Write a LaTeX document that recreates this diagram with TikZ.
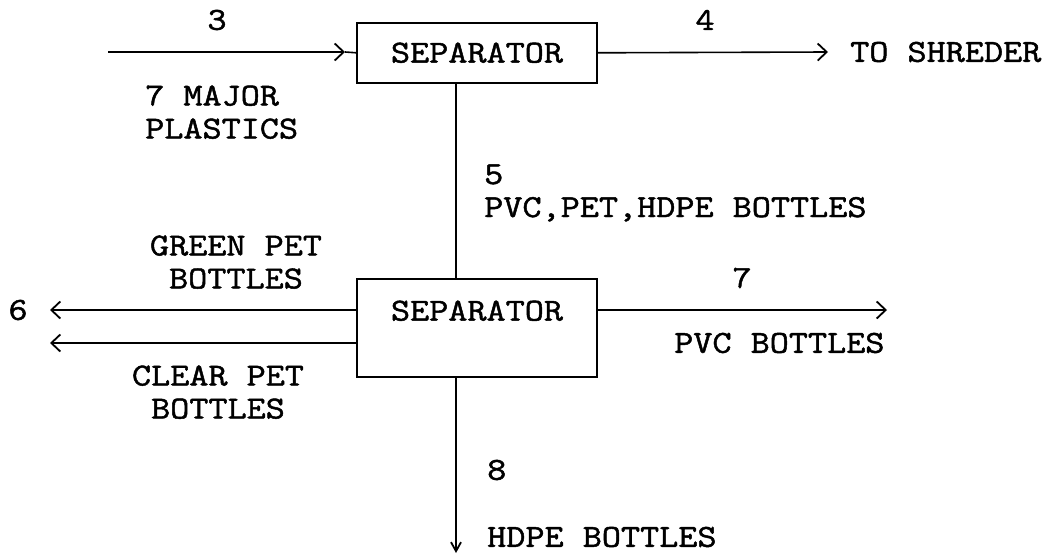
\documentclass[tikz,border=0pt]{standalone}
\usepackage{fontspec}
\setmainfont{Latin Modern Mono}[FakeStretch=1.16, FakeBold=1.5]
\usetikzlibrary{arrows.meta}
\begin{document}
\begin{tikzpicture}[x=1pt,y=-1pt,
  every node/.style={inner sep=0pt, font=\fontsize{32}{33}\selectfont},
  flow/.style={line width=1.6pt},
  barb/.style={flow, -{Straight Barb[length=9pt,width=17pt,line width=1.8pt]}},
  downbarb/.style={flow, -{Straight Barb[length=9pt,width=10pt,line width=1.8pt]}},
  sepbox/.style={draw, line width=1.6pt, minimum width=240pt, anchor=north},
  lbl/.style={align=left, anchor=north west},
  clbl/.style={align=center, anchor=north}]
\useasboundingbox (0,0) rectangle (1054,559);
% boxes
\node[sepbox, text height=39.75pt, text depth=20.25pt] (s1) at (477,22) {SEPARATOR};
\node[sepbox, text height=41.75pt, text depth=56.25pt] (s2) at (477,278) {SEPARATOR};
% input 3
\coordinate (inS) at (108,52);
\coordinate (inT) at (345,52);
\draw[barb] (inS) -- (inT);
\draw[flow] (inT) -- (s1.west);
\node (n3) at (217,20) {3};
\node[lbl] (tmaj) at (145,85.25) {7 MAJOR\\PLASTICS};
% output 4
\coordinate (o4) at (828,52);
\draw[barb] (s1.east) -- (o4);
\node (n4) at (705,20) {4};
\node[anchor=west] (tshr) at (850,52) {TO SHREDER};
% stream 5
\draw[flow] ([xshift=-21pt]s1.south) -- ([xshift=-21pt]s2.north);
\node[lbl] (t5) at (484,164.25) {5\\PVC,PET,HDPE BOTTLES};
% stream 6
\coordinate (o6a) at (50,310);
\coordinate (o6b) at (50,343);
\draw[barb] ([yshift=-32pt]s2.north west) -- (o6a);
\draw[barb] ([yshift=-65pt]s2.north west) -- (o6b);
\node (n6) at (18,310) {6};
\node[clbl] (tgreen) at (236,235.25) {GREEN PET\\BOTTLES};
\node[clbl] (tclear) at (218,365.25) {CLEAR PET\\BOTTLES};
% stream 7
\coordinate (o7) at (887,310);
\draw[barb] ([yshift=-32pt]s2.north east) -- (o7);
\node (n7) at (742,278) {7};
\node[anchor=west] (tpvc) at (674,343) {PVC BOTTLES};
% stream 8
\coordinate (o8) at (456,553);
\draw[downbarb] ([xshift=-21pt]s2.south) -- (o8);
\node[anchor=west] (n8) at (487,470) {8};
\node[anchor=west] (thdpe) at (487,537) {HDPE BOTTLES};
\end{tikzpicture}
\end{document}
